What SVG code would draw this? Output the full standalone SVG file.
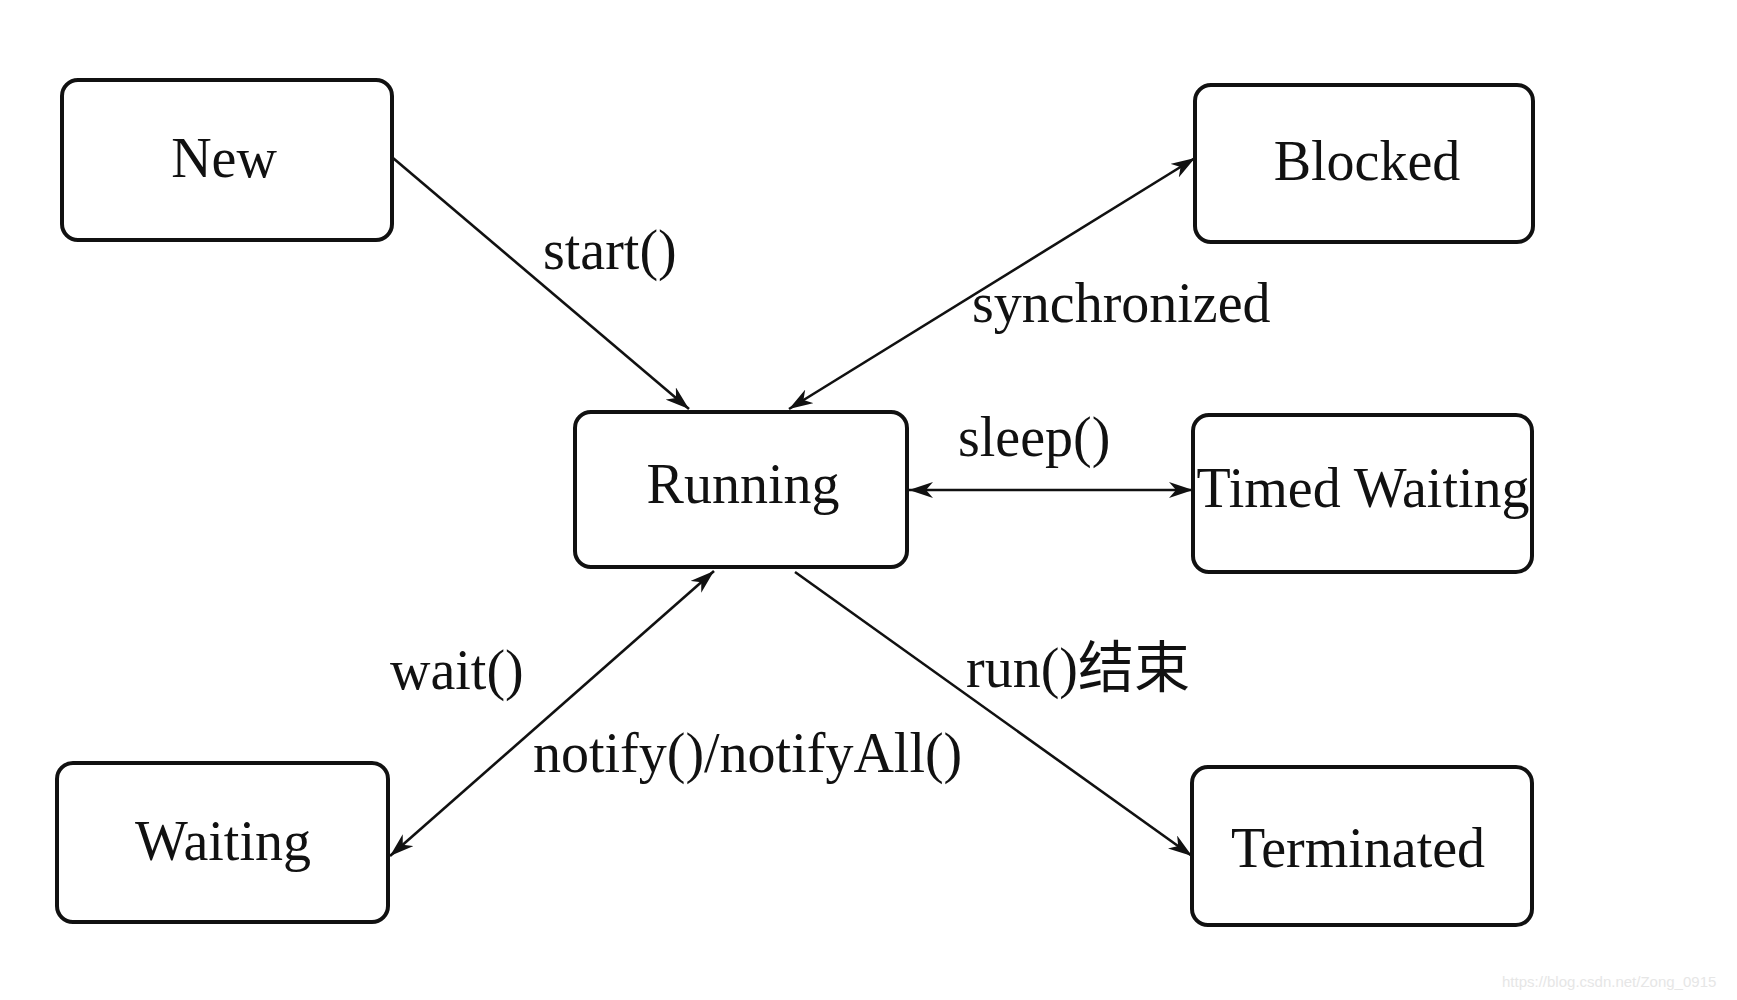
<svg xmlns="http://www.w3.org/2000/svg" width="1737" height="1000" viewBox="0 0 1737 1000">
<style>
.box{fill:#fff;stroke:#111;stroke-width:4}
.t{font-family:"Liberation Serif","Noto Sans CJK SC",serif;font-size:56px;fill:#111;text-anchor:middle}
.l{font-family:"Liberation Serif","Noto Sans CJK SC",serif;font-size:56px;fill:#111}
.c{stroke:#111;stroke-width:2.6;fill:none;marker-end:url(#ah)}
.b{marker-start:url(#as)}
.wm{font-family:"Liberation Sans",Arial,sans-serif;font-size:15px;fill:#e6e6e6}
</style>
<defs>
<marker id="ah" viewBox="0 0 24 16" refX="24" refY="8" markerWidth="24" markerHeight="16" markerUnits="userSpaceOnUse" orient="auto">
<path d="M0,0 L24,8 L0,16 L7,8 Z" fill="#111"/>
</marker>
<marker id="as" viewBox="0 0 24 16" refX="0" refY="8" markerWidth="24" markerHeight="16" markerUnits="userSpaceOnUse" orient="auto">
<path d="M24,0 L0,8 L24,16 L17,8 Z" fill="#111"/>
</marker>
</defs>
<rect width="1737" height="1000" fill="#fff"/>
<g id="connectors">
<line class="c" x1="393" y1="158" x2="689" y2="409"/>
<line class="c b" x1="789" y1="409" x2="1195" y2="158"/>
<line class="c b" x1="909" y1="490" x2="1193" y2="490"/>
<line class="c b" x1="714" y1="571" x2="390" y2="856"/>
<line class="c" x1="795" y1="572" x2="1192" y2="856"/>
</g>
<g id="labels">
<text class="l" x="543" y="269">start()</text>
<text class="l" x="972" y="322">synchronized</text>
<text class="l" x="958" y="456">sleep()</text>
<text class="l" x="390" y="689">wait()</text>
<text class="l" x="533" y="772">notify()/notifyAll()</text>
<text class="l" x="966" y="687">run()结束</text>
</g>
<g id="new"><rect class="box" x="62" y="80" width="330" height="160" rx="16"/><text class="t" x="224" y="177">New</text></g>
<g id="blocked"><rect class="box" x="1195" y="85" width="338" height="157" rx="16"/><text class="t" x="1367" y="180">Blocked</text></g>
<g id="running"><rect class="box" x="575" y="412" width="332" height="155" rx="16"/><text class="t" x="743" y="503">Running</text></g>
<g id="timed-waiting"><rect class="box" x="1193" y="415" width="339" height="157" rx="16"/><text class="t" x="1363" y="507">Timed Waiting</text></g>
<g id="waiting"><rect class="box" x="57" y="763" width="331" height="159" rx="16"/><text class="t" x="223" y="860">Waiting</text></g>
<g id="terminated"><rect class="box" x="1192" y="767" width="340" height="158" rx="16"/><text class="t" x="1358" y="867">Terminated</text></g>
<text class="wm" x="1502" y="987">https://blog.csdn.net/Zong_0915</text>
</svg>
